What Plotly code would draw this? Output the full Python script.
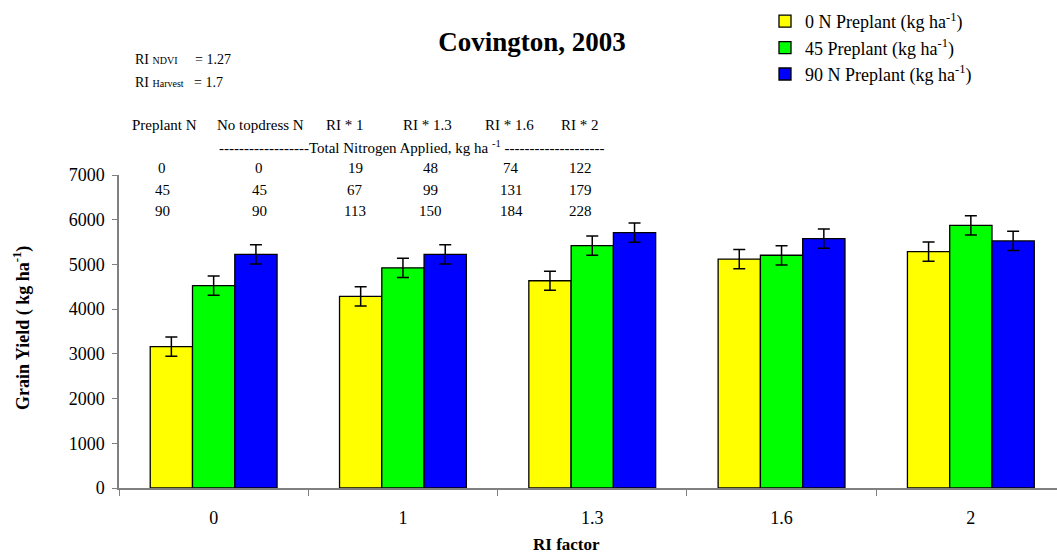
import plotly.graph_objects as go

# Grain yield by RI factor and preplant N rate
ri_factor = ["0", "1", "1.3", "1.6", "2"]
yield_0n = [3160, 4285, 4635, 5120, 5285]
yield_45n = [4525, 4925, 5420, 5205, 5875]
yield_90n = [5225, 5225, 5710, 5575, 5525]
err_0n = [215, 215, 215, 215, 215]
err_45n = [215, 215, 215, 215, 215]
err_90n = [215, 215, 215, 215, 215]

series_names = ["0 N Preplant (kg ha<sup>-1</sup>)",
                "45 Preplant (kg ha<sup>-1</sup>)",
                "90 N Preplant (kg ha<sup>-1</sup>)"]
series_colors = ["#FFFF00", "#00FF00", "#0000FF"]

# Total N applied table
table_header = ["Preplant N", "No topdress N", "RI * 1", "RI * 1.3", "RI * 1.6", "RI * 2"]
total_n = [
    [0, 0, 19, 48, 74, 122],
    [45, 45, 67, 99, 131, 179],
    [90, 90, 113, 150, 184, 228],
]
ri_ndvi = 1.27
ri_harvest = 1.7

W, H = 1057, 556
L, R, T, B = 119, 0, 175, 68
plot_w = W - L - R
plot_h = H - T - B
FONT = "Liberation Serif, Times New Roman, serif"
TXT = 15


def px(x):
    return (x - L) / plot_w


def py(y):
    return (H - B - y) / plot_h


fig = go.Figure()
for name, vals, errs, col in zip(series_names, [yield_0n, yield_45n, yield_90n],
                                 [err_0n, err_45n, err_90n], series_colors):
    fig.add_trace(go.Bar(
        x=ri_factor, y=vals, name=name,
        marker=dict(color=col, line=dict(color="black", width=1.3)),
        error_y=dict(type="data", array=errs, visible=True,
                     color="black", thickness=1.5, width=6),
    ))

annotations = []
# RI values
annotations.append(dict(
    x=px(133), y=py(59), xref="paper", yref="paper", xanchor="left", yanchor="middle",
    text="RI <span style='font-size:10px'>NDVI</span>     = %.2f" % ri_ndvi,
    showarrow=False, font=dict(size=TXT - 1, family=FONT, color="black")))
annotations.append(dict(
    x=px(133), y=py(83), xref="paper", yref="paper", xanchor="left", yanchor="middle",
    text="RI <span style='font-size:10px'>Harvest</span>   = %.1f" % ri_harvest,
    showarrow=False, font=dict(size=TXT - 1, family=FONT, color="black")))

header_x = [164, 260, 345, 427, 509, 580]
col_x = [162, 259, 355, 430, 511, 580]
row_y = [168, 190, 211]
for hx, htxt in zip(header_x, table_header):
    annotations.append(dict(
        x=px(hx), y=py(125), xref="paper", yref="paper", xanchor="center", yanchor="middle",
        text=htxt, showarrow=False, font=dict(size=TXT, family=FONT, color="black")))
annotations.append(dict(
    x=px(217), y=py(147), xref="paper", yref="paper", xanchor="left", yanchor="middle",
    text="-" * 18 + "Total Nitrogen Applied, kg ha <sup>-1</sup> " + "-" * 20,
    showarrow=False, font=dict(size=TXT, family=FONT, color="black")))
for ry, row in zip(row_y, total_n):
    for cx, v in zip(col_x, row):
        annotations.append(dict(
            x=px(cx), y=py(ry), xref="paper", yref="paper", xanchor="center", yanchor="middle",
            text=str(v), showarrow=False, font=dict(size=TXT, family=FONT, color="black")))

# axis titles
annotations.append(dict(
    x=px(566), y=py(544), xref="paper", yref="paper", xanchor="center", yanchor="middle",
    text="<b>RI factor</b>", showarrow=False, font=dict(size=17, family=FONT, color="black")))
annotations.append(dict(
    x=px(22), y=py(328), xref="paper", yref="paper", xanchor="center", yanchor="middle",
    text="<b>Grain Yield ( kg ha<sup>-1</sup>)</b>", textangle=-90,
    showarrow=False, font=dict(size=18, family=FONT, color="black")))

fig.update_layout(
    width=W, height=H,
    margin=dict(l=L, r=R, t=T, b=B, autoexpand=False),
    paper_bgcolor="white", plot_bgcolor="white",
    barmode="group", bargap=0.33, bargroupgap=0,
    font=dict(family=FONT, color="black", size=18),
    title=dict(text="<b>Covington, 2003</b>", x=532 / W, xanchor="center",
               y=1 - 42 / H, yanchor="middle", font=dict(size=27, family=FONT)),
    legend=dict(x=px(765), y=py(3), xanchor="left", yanchor="top",
                font=dict(size=18, family=FONT), bgcolor="rgba(0,0,0,0)",
                traceorder="normal", itemwidth=30, tracegroupgap=0),
    annotations=annotations,
    xaxis=dict(type="category", range=[-0.5, -0.5 + plot_w / 189.3],
               showline=True, linecolor="#808080", linewidth=1.5,
               ticks="outside", tickson="boundaries", ticklen=6, tickcolor="#808080",
               tickfont=dict(size=18, family=FONT), ticklabelstandoff=13,
               showgrid=False, zeroline=False),
    yaxis=dict(range=[0, 7000], dtick=1000, showline=True, linecolor="#808080",
               linewidth=1.5, ticks="outside", ticklen=5, tickcolor="#808080",
               tickfont=dict(size=18, family=FONT), ticklabelstandoff=4,
               showgrid=False, zeroline=False),
)

fig.write_html("out.html")
